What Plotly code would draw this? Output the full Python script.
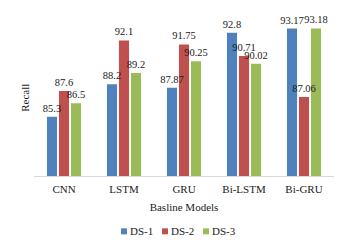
import plotly.graph_objects as go

categories = ["CNN", "LSTM", "GRU", "Bi-LSTM", "Bi-GRU"]
ds1 = [85.3, 88.2, 87.87, 92.8, 93.17]
ds2 = [87.6, 92.1, 91.75, 90.71, 87.06]
ds3 = [86.5, 89.2, 90.25, 90.02, 93.18]
series_names = ["DS-1", "DS-2", "DS-3"]
colors = ["#4F81BD", "#C0504D", "#9BBB59"]

FONT = "Liberation Serif"
TXT = "#1a1a1a"

# the page body has an 8px margin; work in screen pixels and compensate
OFF = 8
SW, SH = 351, 247
W, H = SW - OFF, SH - OFF
scr_l, scr_r, scr_t, scr_b = 34, 334, 8, 176.5
plot_l, plot_r, plot_t, plot_b = scr_l - OFF, scr_r - OFF, scr_t - OFF, scr_b - OFF
pw, ph = plot_r - plot_l, plot_b - plot_t

def px_x(x):  # screen px -> paper
    return (x - OFF - plot_l) / pw

def px_y(y):
    return (plot_b - (y - OFF)) / ph

fig = go.Figure()
series = [ds1, ds2, ds3]
for i, (name, vals, col) in enumerate(zip(series_names, series, colors)):
    fig.add_trace(go.Bar(
        x=categories, y=vals, name=name, offsetgroup=str(i),
        marker=dict(color=col, line=dict(width=0)),
        showlegend=False,
    ))
# data labels drawn on top of all bars
for i, (name, vals) in enumerate(zip(series_names, series)):
    fig.add_trace(go.Bar(
        x=categories, y=vals, name=name + " labels", offsetgroup=str(i),
        marker=dict(color="rgba(0,0,0,0)", line=dict(width=0)),
        text=[f"{v:g}" for v in vals],
        textposition="outside",
        constraintext="none",
        cliponaxis=False,
        textfont=dict(family=FONT, size=10.5, color=TXT),
        showlegend=False, hoverinfo="skip",
    ))

legend_x = [121, 162, 203]
shapes = []
annotations = []
for lx, name, col in zip(legend_x, series_names, colors):
    shapes.append(dict(type="rect", xref="paper", yref="paper",
                       x0=px_x(lx), x1=px_x(lx + 6), y0=px_y(235), y1=px_y(229),
                       fillcolor=col, line=dict(width=0)))
    annotations.append(dict(text=name, xref="paper", yref="paper",
                            x=px_x(lx + 7), y=px_y(232), xanchor="left", yanchor="middle",
                            showarrow=False, font=dict(family=FONT, size=11, color=TXT)))

annotations.append(dict(
    text="Recall", textangle=-90, xref="paper", yref="paper",
    x=px_x(25), y=px_y(98), xanchor="center", yanchor="middle", showarrow=False,
    font=dict(family=FONT, size=11, color=TXT),
))

fig.update_layout(
    width=W, height=H,
    margin=dict(l=plot_l, r=W - plot_r, t=plot_t, b=H - plot_b, pad=0, autoexpand=False),
    paper_bgcolor="white", plot_bgcolor="white",
    barmode="group", bargap=0.4, bargroupgap=0.16,
    font=dict(family=FONT, size=11, color=TXT),
    showlegend=False,
    xaxis=dict(
        automargin=False,
        showline=True, linecolor="#D9D9D9", linewidth=1,
        ticks="", ticklabelstandoff=3,
        tickfont=dict(family=FONT, size=11, color=TXT),
        title=dict(text="Basline Models", standoff=9,
                   font=dict(family=FONT, size=11, color=TXT)),
        showgrid=False,
    ),
    yaxis=dict(
        automargin=False,
        range=[80, 95], showticklabels=False, showgrid=False, zeroline=False,
        showline=False, ticks="",
    ),
    shapes=shapes,
    annotations=annotations,
)

fig.write_html("out.html")
